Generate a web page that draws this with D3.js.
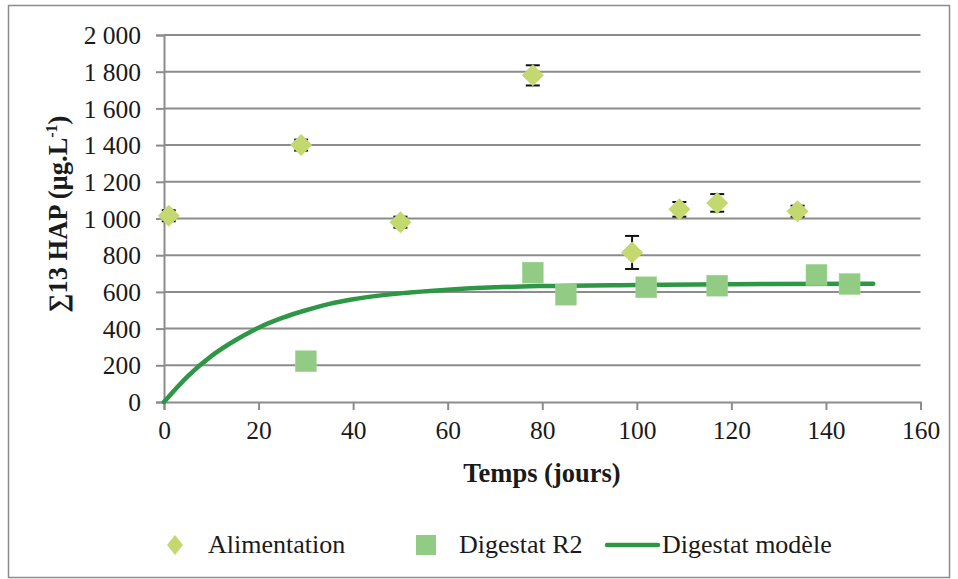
<!DOCTYPE html>
<html><head><meta charset="utf-8">
<script src="https://cdn.jsdelivr.net/npm/d3@7"></script>
<style>body{margin:0;background:#fff}svg{display:block}</style>
</head><body>
<script>
// Alimentation (diamonds) with error bars
const alimDays = [1, 29, 50, 78, 99, 109, 117, 134];
const alimValues = [1015, 1400, 980, 1780, 815, 1050, 1085, 1040];
const alimErrors = [30, 30, 30, 55, 90, 40, 48, 30];
// Digestat R2 (squares)
const digDays = [30, 78, 85, 102, 117, 138, 145];
const digValues = [222, 705, 585, 625, 634, 693, 643];
// Digestat modèle (line)
const modelDays = [0, 5, 10, 15, 20, 25, 30, 35, 40, 50, 60, 70, 80, 100, 120, 150];
const modelValues = [0, 140, 250, 335, 405, 458, 500, 535, 560, 592, 612, 625, 632, 638, 642, 645];
const xTicks = [0, 20, 40, 60, 80, 100, 120, 140, 160];
const yTicks = [0, 200, 400, 600, 800, 1000, 1200, 1400, 1600, 1800, 2000];
const legendLabels = ["Alimentation", "Digestat R2", "Digestat modèle"];

const FONT = "'Liberation Serif', 'Times New Roman', Times, serif";
const TXT = "#1a1a1a";
const W = 958, H = 579;
const svg = d3.select("body").append("svg").attr("width", W).attr("height", H)
  .style("font-family", FONT);
svg.append("rect").attr("x", 8.5).attr("y", 5.5).attr("width", 941).attr("height", 572)
  .attr("fill", "#fff").attr("stroke", "#8c8c8c").attr("stroke-width", 1.5);

const L = 164, R = 920.5, T = 35, B = 402;
const x = d3.scaleLinear().domain([0, 160]).range([L, R]);
const y = d3.scaleLinear().domain([0, 2000]).range([B, T]);
const fmt = d => d3.format(",")(d).replace(",", " ");
const grey = "#8c8c8c";

// gridlines
svg.append("g").selectAll("line").data(yTicks.filter(d => d > 0)).join("line")
  .attr("x1", L).attr("x2", R).attr("y1", d => y(d)).attr("y2", d => y(d))
  .attr("stroke", grey).attr("stroke-width", 2);

// y axis
const ya = svg.append("g").attr("transform", `translate(${L},0)`)
  .call(d3.axisLeft(y).tickValues(yTicks).tickFormat(fmt).tickSize(8).tickPadding(15));
ya.attr("font-family", null).attr("font-size", null);
ya.select(".domain").attr("stroke", grey).attr("stroke-width", 2);
ya.selectAll(".tick line").attr("stroke", grey).attr("stroke-width", 2);
ya.selectAll(".tick text").style("font-family", FONT).style("font-size", "25.5px").attr("fill", TXT).attr("dy", "0.34em");

// x axis
const xa = svg.append("g").attr("transform", `translate(0,${B})`)
  .call(d3.axisBottom(x).tickValues(xTicks).tickSize(8).tickPadding(14));
xa.attr("font-family", null).attr("font-size", null);
xa.select(".domain").attr("stroke", grey).attr("stroke-width", 2);
xa.selectAll(".tick line").attr("stroke", grey).attr("stroke-width", 2);
xa.selectAll(".tick text").style("font-family", FONT).style("font-size", "25.5px").attr("fill", TXT).attr("dy", "0.6em");

// axis titles
svg.append("text").attr("x", 542).attr("y", 482).attr("text-anchor", "middle")
  .style("font-family", FONT).style("font-size", "26.5px").attr("font-weight", "bold").attr("fill", TXT).text("Temps (jours)");
const yt = svg.append("text").attr("transform", `translate(67,214) rotate(-90)`)
  .attr("text-anchor", "middle").style("font-family", FONT).style("font-size", "26.5px")
  .attr("font-weight", "bold").attr("fill", TXT);
yt.append("tspan").text("∑13 HAP (µg.L");
yt.append("tspan").attr("dy", -10).style("font-size", "16px").text("-1");
yt.append("tspan").attr("dy", 10).text(")");

// model line
const lineColor = "#2e9746";
svg.append("path").datum(modelDays.map((d, i) => [d, modelValues[i]]))
  .attr("fill", "none").attr("stroke", lineColor).attr("stroke-width", 4.5).attr("stroke-linecap", "round")
  .attr("d", d3.line().x(d => x(d[0])).y(d => y(d[1])).curve(d3.curveMonotoneX));

// squares
const sq = 21;
svg.append("g").selectAll("rect").data(digDays.map((d, i) => [d, digValues[i]])).join("rect")
  .attr("x", d => x(d[0]) - sq / 2).attr("y", d => y(d[1]) - sq / 2)
  .attr("width", sq).attr("height", sq).attr("fill", "#92cc84").attr("stroke", "#a6d69a").attr("stroke-width", 0.5);

// error bars
const eb = svg.append("g").attr("stroke", "#111").attr("stroke-width", 2);
alimDays.forEach((d, i) => {
  const cx = x(d), y1 = y(alimValues[i] + alimErrors[i]), y2 = y(alimValues[i] - alimErrors[i]);
  eb.append("line").attr("x1", cx).attr("x2", cx).attr("y1", y1).attr("y2", y2);
  eb.append("line").attr("x1", cx - 7).attr("x2", cx + 7).attr("y1", y1).attr("y2", y1);
  eb.append("line").attr("x1", cx - 7).attr("x2", cx + 7).attr("y1", y2).attr("y2", y2);
});

// diamonds
const dm = 11;
svg.append("g").selectAll("path").data(alimDays.map((d, i) => [d, alimValues[i]])).join("path")
  .attr("transform", d => `translate(${x(d[0])},${y(d[1])})`)
  .attr("d", `M0,${-dm}L${dm},0L0,${dm}L${-dm},0Z`).attr("fill", "#c3d96f");

// legend
const ly = 545;
svg.append("path").attr("transform", `translate(175,${ly})`).attr("d", "M0,-10L8,0L0,10L-8,0Z").attr("fill", "#c3d96f");
svg.append("rect").attr("x", 416).attr("y", ly - 10).attr("width", 20).attr("height", 20).attr("fill", "#92cc84");
svg.append("line").attr("x1", 607).attr("x2", 658).attr("y1", ly).attr("y2", ly)
  .attr("stroke", lineColor).attr("stroke-width", 4.5).attr("stroke-linecap", "round");
[[208, 0], [459, 1], [662, 2]].forEach(([lx, i]) => {
  svg.append("text").attr("x", lx).attr("y", ly + 8)
    .style("font-family", FONT).style("font-size", "26px")
    .attr("fill", TXT).text(legendLabels[i]);
});
</script>
</body></html>
